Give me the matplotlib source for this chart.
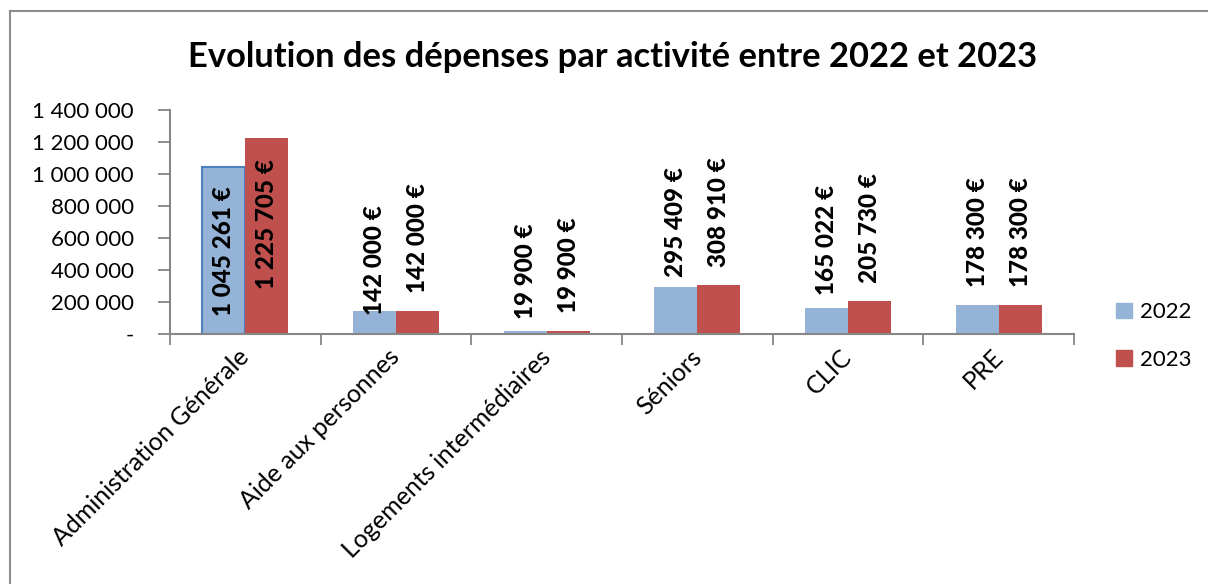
import numpy as np
import matplotlib.pyplot as plt
import matplotlib.transforms as mtransforms
from matplotlib.ticker import FuncFormatter
from matplotlib.lines import Line2D

# ---------------------------------------------------------------
# Data
# ---------------------------------------------------------------
categories = ["Administration Générale", "Aide aux personnes",
              "Logements intermédiaires", "Séniors", "CLIC", "PRE"]
depenses_2022 = [1045261, 142000, 19900, 295409, 165022, 178300]
depenses_2023 = [1225705, 142000, 19900, 308910, 205730, 178300]
series_names = ["2022", "2023"]

# label offsets above bar top (pixels), labels were placed by hand in the original
offsets_2022 = [-149, -4, 12, 10, 13, 18]
offsets_2023 = [-151, 18, 18, 18, 18, 18]

plt.rcParams['font.family'] = ['Lato', 'DejaVu Sans']

blue = '#95B3D7'
red = '#C0504D'
axis_grey = '#868686'


def fmt_eur(v):
    return f"{v:,}".replace(",", " ") + " €"


def fmt_axis(v, pos):
    if v == 0:
        return "-"
    return f"{int(v):,}".replace(",", " ")


W, H = 1208, 584
fig = plt.figure(figsize=(W / 100, H / 100), dpi=100)
ax = fig.add_axes([170 / W, 1 - 334 / H, (1074 - 170) / W, (334 - 110) / H])

x = np.arange(len(categories))
bw = 0.286
bars22 = ax.bar(x - bw / 2, depenses_2022, bw, color=blue, zorder=2)
bars23 = ax.bar(x + bw / 2, depenses_2023, bw, color=red, zorder=2)
# first bar is drawn with an outline in the original (selected in Excel)
bars22[0].set_edgecolor('#4F81BD')
bars22[0].set_linewidth(1.5)

for xi, v, off in zip(x - bw / 2, depenses_2022, offsets_2022):
    ax.annotate(fmt_eur(v), (xi, v), xytext=(0, off), textcoords='offset pixels',
                rotation=90, ha='center', va='bottom', fontsize=17.5,
                fontweight='black', zorder=3)
for xi, v, off in zip(x + bw / 2, depenses_2023, offsets_2023):
    ax.annotate(fmt_eur(v), (xi, v), xytext=(0, off), textcoords='offset pixels',
                rotation=90, ha='center', va='bottom', fontsize=17.5,
                fontweight='black', zorder=3)

ax.set_xlim(-0.5, len(categories) - 0.5)
ax.set_ylim(0, 1400000)
ax.set_yticks(np.arange(0, 1400001, 200000))
ax.yaxis.set_major_formatter(FuncFormatter(fmt_axis))

ax.set_xticks(x)
ax.set_xticklabels(categories, rotation=45, ha='right', rotation_mode='anchor',
                   fontsize=18)
ax.set_xticks(np.arange(-0.5, len(categories)), minor=True)
ax.tick_params(axis='x', which='major', length=0, pad=8)
ax.tick_params(axis='x', which='minor', length=8, width=1.3, color=axis_grey,
               direction='out')
ax.tick_params(axis='y', length=9, width=1.3, color=axis_grey, labelsize=16,
               pad=17)
# nudge category labels a little to the left
shift = mtransforms.ScaledTranslation(-8 / 100, 0, fig.dpi_scale_trans)
for lbl in ax.get_xticklabels():
    lbl.set_transform(lbl.get_transform() + shift)

for s in ['top', 'right']:
    ax.spines[s].set_visible(False)
for s in ['left', 'bottom']:
    ax.spines[s].set_color(axis_grey)
    ax.spines[s].set_linewidth(1.5)

fig.text(613 / W, 1 - 57 / H, "Evolution des dépenses par activité entre 2022 et 2023",
         ha='center', va='center', fontsize=24.8, fontweight='bold')

handles = [plt.Rectangle((0, 0), 1, 1, color=blue),
           plt.Rectangle((0, 0), 1, 1, color=red)]
fig.legend(handles, series_names, loc='center left',
           bbox_to_anchor=(1096 / W, 1 - 336 / H), frameon=False, fontsize=16,
           handlelength=0.7, handleheight=0.7, handletextpad=0.4,
           labelspacing=1.25)

# chart area border (only top and left edges visible in the crop)
fig.add_artist(Line2D([10 / W, 10 / W], [0, 1 - 11 / H], transform=fig.transFigure,
                      color='#8C8C8C', lw=1.5))
fig.add_artist(Line2D([10 / W, 1], [1 - 11 / H, 1 - 11 / H], transform=fig.transFigure,
                      color='#8C8C8C', lw=1.5))

plt.savefig('out.png', dpi=100)
